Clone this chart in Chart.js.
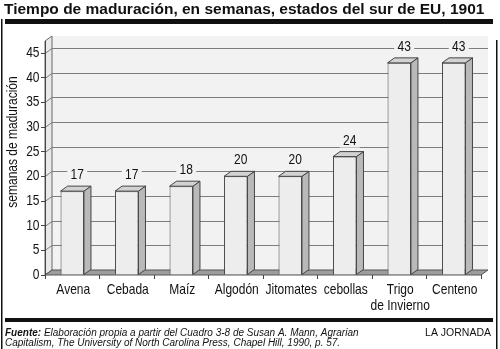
<!DOCTYPE html>
<html>
<head>
<meta charset="utf-8">
<script src="https://cdn.jsdelivr.net/npm/chart.js@4.4.1/dist/chart.umd.min.js"></script>
<style>
  html, body { margin: 0; padding: 0; background: #fff; }
  #wrap { width: 500px; height: 349px; position: relative; }
</style>
</head>
<body>
<div id="wrap"><canvas id="chart"></canvas></div>
<script>
const categories = ["Avena", "Cebada", "Maíz", "Algodón", "Jitomates", "cebollas", ["Trigo", "de Invierno"], "Centeno"];
const weeks = [17, 17, 18, 20, 20, 24, 43, 43];
const yTicks = [0, 5, 10, 15, 20, 25, 30, 35, 40, 45];

const titleText = "Tiempo de maduración, en semanas, estados del sur de EU, 1901";
const axisTitle = "semanas de maduración";
const sourceLine1 = "Elaboración propia a partir del Cuadro 3-8 de Susan A. Mann, Agrarian";
const sourceLine2 = "Capitalism, The University of North Carolina Press, Chapel Hill, 1990, p. 57.";

const SANS = '"Liberation Sans", Arial, sans-serif';
const SQUEEZE = 0.8;   // condensed look for the chart text
const DX = 7, DY = 5;

function narrowText(ctx, text, x, y, align, size) {
    ctx.save();
    ctx.font = size + "px " + SANS;
    ctx.translate(x, y);
    ctx.scale(SQUEEZE, 1);
    ctx.textAlign = align;
    ctx.textBaseline = "middle";
    ctx.fillText(text, 0, 0);
    ctx.restore();
}

// walls, floor, grid, title and footer
const decor = {
    id: "decor",
    beforeDraw(chart) {
        const ctx = chart.ctx;
        const a = chart.chartArea;
        const y = chart.scales.y;
        ctx.save();
        ctx.fillStyle = "#fff";
        ctx.fillRect(0, 0, chart.width, chart.height);

        // title, fitted to the rule width
        let size = 17;
        ctx.font = "bold " + size + "px " + SANS;
        while (ctx.measureText(titleText).width > 487 && size > 10) {
            size -= 0.25;
            ctx.font = "bold " + size + "px " + SANS;
        }
        ctx.fillStyle = "#111";
        ctx.textBaseline = "alphabetic";
        ctx.fillText(titleText, 4, 14);

        // rules and frame
        ctx.fillRect(5, 19, 488, 5);
        ctx.fillRect(5, 318, 488, 4);
        ctx.fillRect(1, 19, 1.5, 330);
        ctx.fillRect(496, 40, 1.5, 309);

        const L = a.left, R = a.right, B = a.bottom, T = a.top - 12;

        // back wall
        ctx.fillStyle = "#f2f2f2";
        ctx.fillRect(L + DX, T - DY, R - L, B - T);

        // side wall
        ctx.beginPath();
        ctx.moveTo(L, B);
        ctx.lineTo(L + DX, B - DY);
        ctx.lineTo(L + DX, T - DY);
        ctx.lineTo(L, T);
        ctx.closePath();
        ctx.fillStyle = "#e9e9e9";
        ctx.fill();
        ctx.strokeStyle = "#666";
        ctx.lineWidth = 1;
        ctx.stroke();

        // grid lines on the walls
        ctx.strokeStyle = "#7d7d7d";
        yTicks.forEach(v => {
            if (v === 0) return;
            const py = Math.round(y.getPixelForValue(v)) + 0.5;
            ctx.beginPath();
            ctx.moveTo(L, py);
            ctx.lineTo(L + DX, py - DY);
            ctx.lineTo(R + DX, py - DY);
            ctx.stroke();
        });

        // floor
        ctx.beginPath();
        ctx.moveTo(L, B);
        ctx.lineTo(R, B);
        ctx.lineTo(R + DX, B - DY);
        ctx.lineTo(L + DX, B - DY);
        ctx.closePath();
        ctx.fillStyle = "#9d9d9d";
        ctx.fill();
        ctx.strokeStyle = "#555";
        ctx.stroke();

        // front edge of the side wall
        ctx.beginPath();
        ctx.moveTo(L + 0.5, B);
        ctx.lineTo(L + 0.5, T);
        ctx.strokeStyle = "#444";
        ctx.stroke();

        // y axis title
        ctx.save();
        ctx.translate(13, 142);
        ctx.rotate(-Math.PI / 2);
        ctx.fillStyle = "#111";
        narrowText(ctx, axisTitle, 0, 0, "center", 15);
        ctx.restore();

        // footer
        ctx.fillStyle = "#111";
        ctx.textAlign = "left";
        ctx.font = "bold italic 10px " + SANS;
        ctx.fillText("Fuente:", 5, 336);
        const w = ctx.measureText("Fuente: ").width;
        ctx.font = "italic 10px " + SANS;
        ctx.fillText(sourceLine1, 5 + w, 336);
        ctx.fillText(sourceLine2, 5, 346);
        ctx.font = "10.5px " + SANS;
        ctx.textAlign = "right";
        ctx.fillText("LA JORNADA", 491, 336);
        ctx.restore();
    },
    afterDraw(chart) {
        // tick labels, drawn condensed at the scales' own positions
        const ctx = chart.ctx;
        const x = chart.scales.x, y = chart.scales.y;
        ctx.save();
        ctx.fillStyle = "#111";
        yTicks.forEach(v => {
            narrowText(ctx, String(v), 39.5, y.getPixelForValue(v), "right", 15);
        });
        categories.forEach((c, i) => {
            const lines = Array.isArray(c) ? c : [c];
            const px = x.getPixelForTick(i);
            lines.forEach((s, k) => {
                narrowText(ctx, s, px + 1, 290 + k * 16, "center", 15);
            });
        });
        ctx.restore();
    }
};

// top and side faces of each bar, plus value labels
const bars3d = {
    id: "bars3d",
    afterDatasetsDraw(chart) {
        const ctx = chart.ctx;
        const meta = chart.getDatasetMeta(0);
        ctx.save();
        ctx.lineWidth = 1;
        ctx.strokeStyle = "#444";
        meta.data.forEach((bar, i) => {
            const half = bar.width / 2;
            const l = bar.x - half, r = bar.x + half, t = bar.y, b = bar.base;
            // side
            ctx.beginPath();
            ctx.moveTo(r, b);
            ctx.lineTo(r + DX, b - DY);
            ctx.lineTo(r + DX, t - DY);
            ctx.lineTo(r, t);
            ctx.closePath();
            ctx.fillStyle = "#b9b9b9";
            ctx.fill();
            ctx.stroke();
            // top
            ctx.beginPath();
            ctx.moveTo(l, t);
            ctx.lineTo(l + DX, t - DY);
            ctx.lineTo(r + DX, t - DY);
            ctx.lineTo(r, t);
            ctx.closePath();
            ctx.fillStyle = "#d2d2d2";
            ctx.fill();
            ctx.stroke();

            // value label
            const label = String(weeks[i]);
            const cx = bar.x + 5, cy = t - 16;
            ctx.fillStyle = "#f2f2f2";
            ctx.fillRect(cx - 10, cy - 7, 20, 14);
            ctx.fillStyle = "#111";
            narrowText(ctx, label, cx, cy, "center", 15);
        });
        ctx.restore();
    }
};

new Chart(document.getElementById("chart"), {
    type: "bar",
    data: {
        labels: categories,
        datasets: [{
            data: weeks,
            backgroundColor: "#ededed",
            borderColor: "#444",
            borderWidth: 1,
            barPercentage: 0.43,
            categoryPercentage: 1
        }]
    },
    options: {
        responsive: true,
        maintainAspectRatio: false,
        animation: false,
        devicePixelRatio: 1,
        layout: {
            padding: { left: 0, right: 19, top: 53, bottom: 0 }
        },
        plugins: {
            legend: { display: false },
            title: { display: false },
            tooltip: { enabled: false }
        },
        scales: {
            x: {
                grid: {
                    drawOnChartArea: false,
                    drawTicks: true,
                    tickLength: 4,
                    color: "#444"
                },
                border: { display: false },
                ticks: {
                    color: "rgba(0,0,0,0)",
                    maxRotation: 0,
                    autoSkip: false,
                    font: { size: 14 }
                },
                afterFit(scale) { scale.height = 74; }
            },
            y: {
                min: 0,
                max: 45,
                afterBuildTicks(scale) {
                    scale.ticks = yTicks.map(v => ({ value: v }));
                },
                grid: {
                    drawOnChartArea: false,
                    drawTicks: true,
                    tickLength: 4,
                    color: "#444"
                },
                border: { display: false },
                ticks: {
                    color: "rgba(0,0,0,0)",
                    font: { size: 14 }
                },
                afterFit(scale) { scale.width = 45; }
            }
        }
    },
    plugins: [decor, bars3d]
});
</script>
</body>
</html>
